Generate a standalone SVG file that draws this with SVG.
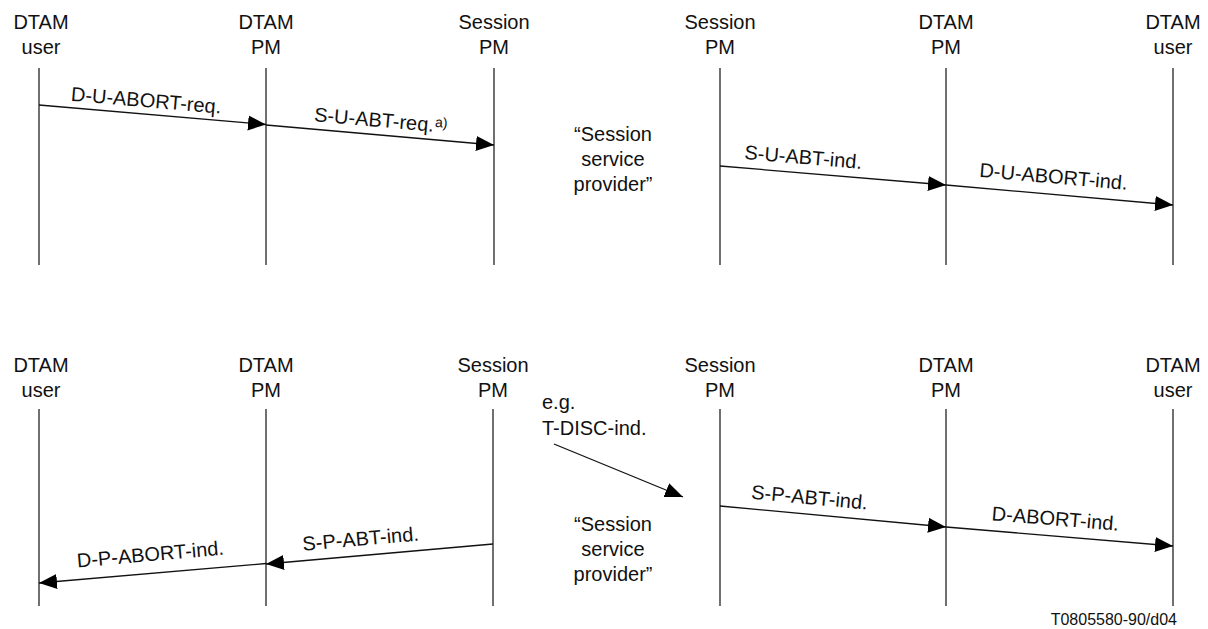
<svg xmlns="http://www.w3.org/2000/svg" width="1208" height="629" viewBox="0 0 1208 629">
<defs>
<marker id="ah" markerUnits="userSpaceOnUse" markerWidth="19" markerHeight="16" refX="18" refY="8" orient="auto">
<path d="M0,0.5 L18,8 L0,15.5 z" fill="#000"/>
</marker>
<style>
text{font-family:"Liberation Sans",Arial,sans-serif;font-size:20px;fill:#111}
.h{text-anchor:middle}
.m{text-anchor:middle}
.life{stroke:#222;stroke-width:1.3;fill:none}
.msg{stroke:#111;stroke-width:1.3;fill:none;marker-end:url(#ah)}
.sup{font-size:14px}
.foot{font-size:16px;text-anchor:end}
</style>
</defs>
<rect width="1208" height="629" fill="#fff"/>

<g id="top-dtam-user-l"><text class="h" x="41" y="29">DTAM</text><text class="h" x="41" y="54">user</text><line class="life" x1="39" y1="68" x2="39" y2="265"/></g>
<g id="top-dtam-pm-l"><text class="h" x="266" y="29">DTAM</text><text class="h" x="266" y="54">PM</text><line class="life" x1="266" y1="68" x2="266" y2="265"/></g>
<g id="top-session-pm-l"><text class="h" x="494" y="29">Session</text><text class="h" x="494" y="54">PM</text><line class="life" x1="494" y1="68" x2="494" y2="265"/></g>
<g id="top-session-pm-r"><text class="h" x="720" y="29">Session</text><text class="h" x="720" y="54">PM</text><line class="life" x1="720" y1="68" x2="720" y2="265"/></g>
<g id="top-dtam-pm-r"><text class="h" x="946" y="29">DTAM</text><text class="h" x="946" y="54">PM</text><line class="life" x1="946" y1="68" x2="946" y2="265"/></g>
<g id="top-dtam-user-r"><text class="h" x="1173" y="29">DTAM</text><text class="h" x="1173" y="54">user</text><line class="life" x1="1173" y1="68" x2="1173" y2="265"/></g>
<g id="top-provider"><text class="m" x="613" y="141">“Session</text><text class="m" x="613" y="166">service</text><text class="m" x="613" y="191">provider”</text></g>

<g id="bot-dtam-user-l"><text class="h" x="41" y="372">DTAM</text><text class="h" x="41" y="397">user</text><line class="life" x1="39" y1="409" x2="39" y2="606"/></g>
<g id="bot-dtam-pm-l"><text class="h" x="266" y="372">DTAM</text><text class="h" x="266" y="397">PM</text><line class="life" x1="266" y1="409" x2="266" y2="606"/></g>
<g id="bot-session-pm-l"><text class="h" x="493" y="372">Session</text><text class="h" x="493" y="397">PM</text><line class="life" x1="493" y1="409" x2="493" y2="606"/></g>
<g id="bot-session-pm-r"><text class="h" x="720" y="372">Session</text><text class="h" x="720" y="397">PM</text><line class="life" x1="720" y1="409" x2="720" y2="606"/></g>
<g id="bot-dtam-pm-r"><text class="h" x="946" y="372">DTAM</text><text class="h" x="946" y="397">PM</text><line class="life" x1="946" y1="409" x2="946" y2="606"/></g>
<g id="bot-dtam-user-r"><text class="h" x="1173" y="372">DTAM</text><text class="h" x="1173" y="397">user</text><line class="life" x1="1173" y1="409" x2="1173" y2="606"/></g>
<g id="bot-provider"><text class="m" x="613" y="531">“Session</text><text class="m" x="613" y="556">service</text><text class="m" x="613" y="581">provider”</text></g>
<g id="tdisc"><text x="542" y="409">e.g.</text><text x="542" y="435">T-DISC-ind.</text></g>

<g id="connectors">
<line class="msg" x1="39" y1="105" x2="266" y2="124.5"/>
<line class="msg" x1="266" y1="125" x2="494" y2="145"/>
<line class="msg" x1="720" y1="166" x2="946" y2="185"/>
<line class="msg" x1="946" y1="185" x2="1173" y2="205"/>
<line class="msg" x1="493" y1="544" x2="266" y2="564"/>
<line class="msg" x1="266" y1="563.5" x2="39" y2="583"/>
<line class="msg" x1="554" y1="444" x2="683" y2="497"/>
<line class="msg" x1="720" y1="506" x2="946" y2="527"/>
<line class="msg" x1="946" y1="527" x2="1173" y2="546"/>
</g>

<g id="labels">
<g transform="translate(145,114.1) rotate(4.91)"><text class="m" x="0" y="-7">D-U-ABORT-req.</text></g>
<g transform="translate(313,129.1) rotate(5.03)"><text x="0" y="-8">S-U-ABT-req.<tspan class="sup" dx="1" dy="-5">a)</tspan></text></g>
<g transform="translate(802,172.9) rotate(4.78)"><text class="m" x="0" y="-9">S-U-ABT-ind.</text></g>
<g transform="translate(1052,194.3) rotate(5.03)"><text class="m" x="0" y="-11">D-U-ABORT-ind.</text></g>
<g transform="translate(362,555.5) rotate(-5.03)"><text class="m" x="0" y="-10">S-P-ABT-ind.</text></g>
<g transform="translate(152,573) rotate(-5.03)"><text class="m" x="0" y="-12">D-P-ABORT-ind.</text></g>
<g transform="translate(808,514.1) rotate(5.28)"><text class="m" x="0" y="-10">S-P-ABT-ind.</text></g>
<g transform="translate(1054,535.9) rotate(4.76)"><text class="m" x="0" y="-10.5">D-ABORT-ind.</text></g>
<text class="foot" x="1177" y="625">T0805580-90/d04</text>
</g>
</svg>
